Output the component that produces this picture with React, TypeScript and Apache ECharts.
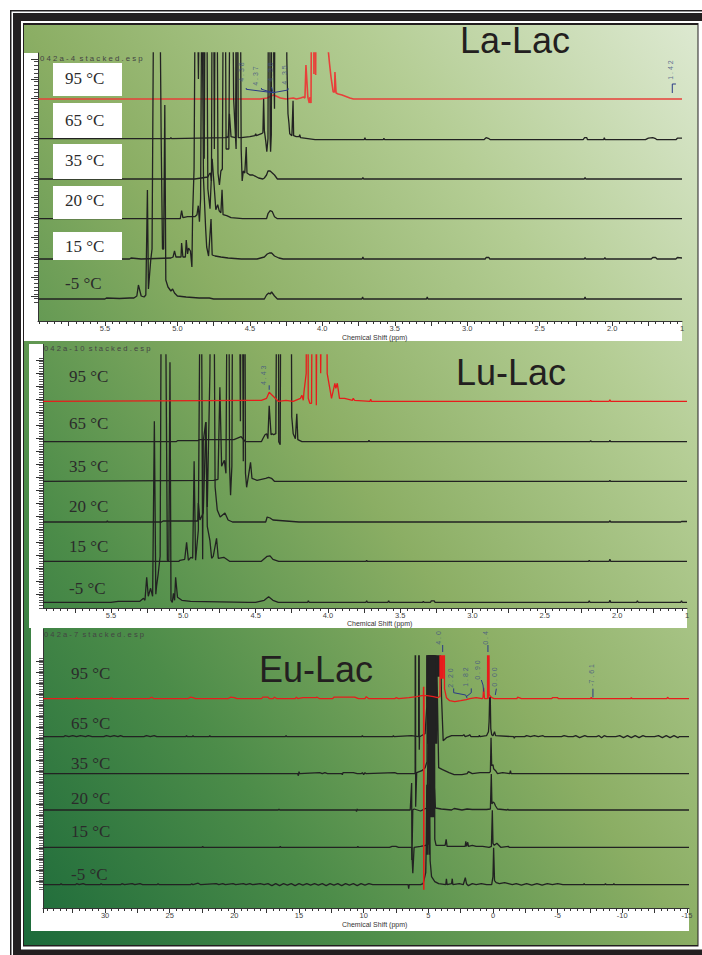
import React, { useEffect, useRef } from "react";
import * as echarts from "echarts";

type P = [number, number];
const OFF = 400; // peak runs off the top of the plot

const tempLabels = ["95 °C", "65 °C", "35 °C", "20 °C", "15 °C", "-5 °C"];

// ---------- La-Lac (ppm, height) ----------
const laM5: P[] = [[5.96,0],[5.5,0],[5.49,1],[5.4,0.5],[5.33,1],[5.3,1],[5.28,3],[5.269,14],[5.25,3],[5.23,2],[5.218,4],[5.207,109],[5.2,10],[5.184,39],[5.175,50],[5.16,OFF],[5.144,260],[5.126,OFF],[5.112,160],[5.103,50],[5.095,50],[5.087,194],[5.08,19],[5.065,12],[5.045,8],[5.033,10],[5.02,6],[5,3],[4.94,2],[4.85,1],[4.78,1],[4.75,0],[4.4,0],[4.385,4],[4.37,6],[4.36,5],[4.35,7],[4.34,5],[4.33,3],[4.31,0],[3.727,0],[3.722,2],[3.717,0],[3.281,0],[3.276,2],[3.271,0],[2.192,0],[2.187,2],[2.182,0],[1.518,0]];
const la15: P[] = [[5.96,0],[5.33,0],[5.32,1],[5.25,0],[5.045,1],[5.03,2],[5.02,8],[5.01,2],[4.99,2],[4.975,2],[4.971,16],[4.962,2],[4.945,2],[4.939,19],[4.93,5],[4.923,11],[4.91,8],[4.9,-8],[4.895,45],[4.885,90],[4.872,OFF],[4.855,180],[4.837,OFF],[4.82,80],[4.805,30],[4.798,12],[4.785,3],[4.768,40],[4.76,4],[4.74,3],[4.7,2],[4.65,1],[4.56,0],[4.45,0],[4.4,2],[4.38,5],[4.365,6],[4.35,6],[4.33,3],[4.3,1],[4.27,0],[3.725,0],[3.72,2],[3.715,0],[2.875,0],[2.87,1.5],[2.85,1.5],[2.845,0],[2.192,0],[2.187,1.5],[2.182,0],[2.055,0],[2.05,1.5],[2.045,0],[1.73,0],[1.72,1.5],[1.7,1.5],[1.69,0],[1.56,0],[1.55,1.5],[1.518,1]];
const la20: P[] = [[5.96,0],[4.98,0],[4.971,8],[4.962,1],[4.93,2],[4.88,2],[4.865,4],[4.856,13],[4.848,-3],[4.84,20],[4.826,OFF],[4.815,60],[4.803,OFF],[4.79,30],[4.775,10],[4.76,60],[4.75,40],[4.735,9],[4.722,14],[4.712,8],[4.7,6],[4.692,29],[4.685,4],[4.66,3],[4.63,1],[4.55,0],[4.385,0],[4.375,5],[4.36,8],[4.345,7],[4.33,2],[4.31,0],[1.518,0]];
const la35: P[] = [[5.96,0],[4.88,0],[4.79,2],[4.78,5],[4.772,6],[4.765,-2],[4.756,OFF],[4.745,30],[4.733,OFF],[4.72,6],[4.71,-6],[4.7,8],[4.69,10],[4.676,OFF],[4.664,30],[4.645,30],[4.629,OFF],[4.612,80],[4.595,30],[4.572,OFF],[4.56,30],[4.553,-2],[4.545,8],[4.535,6],[4.525,32],[4.52,6],[4.5,4],[4.479,4],[4.44,1],[4.41,0],[4.4,1],[4.385,4],[4.375,8],[4.36,8],[4.345,6],[4.33,4],[4.31,0],[3.725,0],[3.72,1.5],[3.715,0],[2.192,0],[2.187,1.5],[2.182,0],[1.518,0]];
const la65: P[] = [[5.96,0],[5.05,0],[5.045,1],[5.04,0],[4.665,1],[4.657,2],[4.65,1],[4.641,25],[4.63,2],[4.6,1],[4.598,2],[4.59,OFF],[4.58,1],[4.56,1],[4.5,2],[4.465,3],[4.46,5],[4.455,3],[4.42,5],[4.41,6],[4.405,40],[4.4,8],[4.39,-3],[4.383,-13],[4.375,0],[4.368,OFF],[4.36,0],[4.357,-13],[4.352,4],[4.345,OFF],[4.335,70],[4.33,30],[4.322,OFF],[4.312,200],[4.29,OFF],[4.275,300],[4.265,OFF],[4.255,OFF],[4.245,80],[4.237,25],[4.23,15],[4.225,5],[4.21,3],[4.202,38],[4.198,3],[4.18,2],[4.16,2],[4.156,4],[4.15,1],[4.1,0],[4.05,-1],[3.9,-1],[3.711,-1],[3.706,1],[3.701,-1],[3.58,-1],[3.575,0.5],[3.57,-1],[2.885,-1],[2.87,1],[2.85,0],[2.84,-1],[2.2,-1],[2.19,1],[2.175,1],[2.17,-1],[2.059,-1],[2.054,1],[2.049,-1],[1.77,-1],[1.75,0.5],[1.72,1],[1.7,0],[1.69,-1],[1.56,-1],[1.55,0.5],[1.518,0.5]];
const la95: P[] = [[5.96,0],[4.43,0],[4.38,1],[4.355,3],[4.336,4],[4.32,3],[4.29,1],[4.25,0],[4.2,1],[4.179,0],[4.15,1],[4.13,2],[4.12,1],[4.113,34],[4.1,2],[4.09,-4],[4.085,2],[4.078,-4],[4.065,OFF],[4.058,25],[4.051,OFF],[4.046,24],[4.036,OFF],[3.99,OFF],[3.975,OFF],[3.96,50],[3.95,35],[3.94,22],[3.93,12],[3.925,7],[3.915,7],[3.913,27],[3.905,6],[3.89,5],[3.864,4],[3.81,1],[3.785,0],[1.518,0]];

// ---------- Lu-Lac ----------
const luM5: P[] = [[5.97,0],[5.5,0],[5.45,1],[5.35,1],[5.3,1],[5.275,4],[5.265,2],[5.253,25],[5.242,6],[5.226,14],[5.212,6],[5.2,181],[5.19,8],[5.184,17],[5.173,29],[5.16,46],[5.15,OFF],[5.14,262],[5.127,OFF],[5.11,42],[5.1,42],[5.092,240],[5.085,2],[5.076,0],[5.068,9],[5.06,2],[5.053,25],[5.04,5],[5.01,2],[4.95,1],[4.55,0],[4.5,0],[4.44,2],[4.41,5.5],[4.38,2],[4.343,0],[4.14,0],[4.135,1.5],[4.13,0],[3.737,0],[3.732,1.5],[3.727,0],[3.585,0],[3.58,1.5],[3.575,0],[3.345,0],[3.34,1],[3.335,0],[3.29,0],[3.285,1.5],[3.265,1.5],[3.26,0],[2.198,0],[2.193,1.5],[2.188,0],[2.055,0],[2.05,2],[2.045,0],[1.865,0],[1.86,1.5],[1.855,0],[1.56,0],[1.555,1.5],[1.55,0],[1.517,0]];
const lu15: P[] = [[5.97,0],[5.03,0],[5.023,1],[4.99,2],[4.977,19],[4.965,1],[4.948,4],[4.935,3],[4.925,100],[4.915,1],[4.896,31],[4.878,OFF],[4.866,2],[4.862,120],[4.845,139],[4.834,35],[4.816,21],[4.804,3],[4.793,5],[4.77,23],[4.758,3],[4.72,4],[4.68,0],[4.46,0],[4.42,5],[4.4,5.5],[4.38,2],[4.34,0],[3.737,0],[3.732,1],[3.727,0],[2.198,0],[2.193,1],[2.188,0],[2.055,0],[2.05,2],[2.045,0],[1.517,0]];
const lu20: P[] = [[5.97,0],[5.53,0],[5.525,1],[5.52,0],[5.15,0],[5.14,1],[5.04,1],[4.9,1],[4.896,19],[4.885,2],[4.862,9],[4.843,100],[4.834,15],[4.816,149],[4.805,OFF],[4.793,OFF],[4.78,35],[4.765,12],[4.745,5],[4.712,9],[4.69,2],[4.66,0],[4.43,0],[4.42,5],[4.4,4],[4.38,2],[4.29,1],[4.2,0],[2.055,0],[2.05,1.5],[2.045,0],[1.56,0],[1.555,0.5],[1.517,0.5]];
const lu35: P[] = [[5.97,0],[4.79,1],[4.76,2],[4.747,94],[4.735,15],[4.716,21],[4.705,8],[4.689,OFF],[4.68,15],[4.673,-14],[4.664,15],[4.654,OFF],[4.62,OFF],[4.605,60],[4.597,OFF],[4.585,20],[4.578,OFF],[4.57,8],[4.562,-6],[4.55,5],[4.535,19],[4.525,3],[4.49,1],[4.43,3],[4.41,4],[4.39,3],[4.37,0],[2.055,0],[2.05,1],[2.045,0],[1.517,0]];
const lu65: P[] = [[5.97,0],[5.05,0],[5.04,1],[4.9,1],[4.89,2],[4.78,2],[4.65,2],[4.6,5],[4.57,0],[4.46,0],[4.45,3],[4.435,7],[4.424,8],[4.415,3],[4.406,36],[4.393,7],[4.385,8],[4.375,7],[4.36,8],[4.345,OFF],[4.34,0],[4.33,-3],[4.32,OFF],[4.305,130],[4.295,OFF],[4.285,100],[4.27,OFF],[4.26,OFF],[4.25,25],[4.24,8],[4.225,3],[4.215,28],[4.208,2],[4.18,0],[4.14,0],[3.721,0],[3.716,1.5],[3.711,0],[2.188,0],[2.183,1],[2.178,0],[2.055,0],[2.05,1.5],[2.045,0],[1.517,0]];
const lu95: P[] = [[5.97,0],[4.46,1],[4.424,3],[4.406,9],[4.378,5],[4.343,0],[4.29,1],[4.24,0],[4.19,3],[4.18,6],[4.17,1],[4.165,10],[4.15,28],[4.143,OFF],[4.136,3],[4.125,-2],[4.113,-2],[4.1,OFF],[4.09,OFF],[4.08,-4],[4.065,OFF],[4.05,28],[4.02,OFF],[4.005,28],[3.975,3],[3.952,18],[3.945,13],[3.935,18],[3.92,3],[3.885,3],[3.83,1],[3.825,3],[3.815,1],[3.709,0],[3.704,2],[3.699,0],[2.188,0],[2.183,1],[2.178,0],[2.055,0],[2.05,1.5],[2.045,0],[1.517,0]];

// ---------- Eu-Lac ----------
const euM5: P[] = [[34.8,0],[33.5,0],[33.4,1],[33.3,0],[32.3,0],[32.2,1],[32,0],[31.7,1],[31.5,0],[30.4,0],[30.3,1],[30.2,0],[28.8,0],[28.7,1],[28.5,0],[27.9,1],[27.7,0],[27.3,1],[27.1,0],[26,0],[25.9,1],[25.8,0],[23.4,0],[23.3,1],[23.2,0],[22.8,1.5],[22.6,0],[21.4,1],[21.2,0],[20.9,1],[20.7,0],[20.1,1],[19.9,0],[19.3,1],[19.1,0],[18.8,1],[18.6,0],[18,1],[17.7,0],[17.4,1],[17.1,-1],[16.8,1],[16.5,-1],[16.2,1],[15.9,-0.5],[15.6,1],[15.3,-1],[15,1],[14.7,-0.5],[14.4,1],[14.1,-0.5],[13.8,1],[13.5,-0.5],[13.2,1],[12.9,-1],[12.6,1],[12.3,-0.5],[12,1],[11.7,-1],[11.4,1],[11.1,-0.5],[10.8,1],[10.5,-1],[10.2,1],[9.9,-0.5],[9.6,1],[9.3,0],[9,0],[6.56,0],[6.52,-4],[6.48,0],[5.6,0],[5.4,1],[5.2,12],[5.16,40],[5.12,100],[5.08,30],[5.05,100],[5.02,40],[4.98,100],[4.95,30],[4.9,100],[4.86,24],[4.75,8],[4.5,3],[4.2,1],[3.65,0],[3.6,6],[3.55,0],[3.2,1],[3.15,6],[3.1,0],[2.6,1],[2.3,0],[2.14,7],[2.05,1],[1.9,-1],[1.6,1],[1.3,0],[0.9,1],[0.5,0],[0.1,0],[0,8],[-0.05,37],[-0.12,4],[-0.25,2],[-0.5,1],[-0.9,2],[-1.2,1],[-1.5,0],[-1.8,1],[-2.2,-0.5],[-2.6,1],[-3,-0.5],[-3.4,1],[-3.8,-0.5],[-4.2,1],[-4.6,0],[-5,1],[-5.4,0],[-7.0,0],[-7.05,1],[-7.1,0],[-8.65,0],[-8.7,1],[-8.75,0],[-9.3,0],[-9.35,1],[-9.4,0],[-15.16,0]];
const eu15: P[] = [[34.8,0],[22.5,0],[22.45,1],[22.4,0],[16.5,0],[16.45,1],[16.4,0],[10.5,0],[10.45,1],[10.4,0],[8,0],[7.8,1],[7.5,1],[7.3,0],[6.35,0],[6.29,0],[6.2,-26],[6.1,0],[5.6,1],[5.2,2],[5,4],[4.95,100],[4.92,OFF],[4.89,30],[4.86,OFF],[4.83,30],[4.8,OFF],[4.77,30],[4.74,OFF],[4.71,30],[4.68,OFF],[4.65,30],[4.62,OFF],[4.59,30],[4.56,OFF],[4.5,8],[4.4,2],[3.7,2],[3.62,8],[3.55,1],[3.2,1],[3.1,1],[2.15,1],[2.1,6],[2.05,1],[1.95,5],[1.9,1],[1.6,2],[1.3,1],[0.8,1],[0.3,0],[0.12,1],[0.05,37],[0,4],[-0.1,2],[-0.3,4],[-0.45,2],[-0.6,0],[-1.2,1],[-1.25,0],[-15.16,0]];
const eu20: P[] = [[34.8,0],[16.6,0],[16.55,1],[16.5,0],[10.6,0],[10.55,-1.5],[10.5,1],[10.45,0],[6.4,0],[6.29,27],[6.27,-50],[6.2,0],[6.1,1],[5.6,-1],[5.3,1],[5.1,2],[5,80],[4.97,OFF],[4.94,30],[4.91,OFF],[4.88,30],[4.85,OFF],[4.82,30],[4.79,OFF],[4.76,30],[4.73,OFF],[4.7,30],[4.67,OFF],[4.64,30],[4.61,OFF],[4.58,30],[4.52,20],[4.45,2],[4,1],[3.2,0],[3,1.5],[2.8,1],[2.4,0],[2,1],[1.6,0.5],[1.1,0.5],[0.5,0.5],[0.2,1],[0.13,36],[0.08,6],[0,8],[-0.1,7],[-0.2,4],[-0.35,1],[-1.1,0],[-1.15,1],[-1.2,0],[-15.16,0]];
const eu35: P[] = [[34.8,0],[15.1,0],[15.05,-2],[15,2],[14.95,0],[13.4,1],[13.2,0],[13,1],[12.8,0],[11.7,0],[11.65,-1],[11.6,1],[11.2,1],[10.8,1],[10.5,0],[10.2,0],[10.1,1],[10,-1],[9.9,1],[9.8,0],[7.6,1],[7.4,0],[6.05,0],[6.02,1],[6,OFF],[5.98,-33],[5.9,1],[5.5,3],[5.25,6],[5.1,12],[5.05,OFF],[5.02,30],[4.99,OFF],[4.96,30],[4.93,OFF],[4.9,30],[4.87,OFF],[4.84,30],[4.81,OFF],[4.78,30],[4.75,OFF],[4.72,30],[4.69,OFF],[4.66,30],[4.63,OFF],[4.6,30],[4.57,OFF],[4.54,30],[4.51,OFF],[4.48,30],[4.45,OFF],[4.42,30],[4.39,OFF],[4.36,30],[4.33,100],[4.2,6],[3.9,4],[3.4,1],[3,-1],[2.4,-1],[2,0],[1.9,2],[1.6,0],[1,1],[0.3,1],[0.2,2],[0.15,36],[0.1,8],[0,9],[-0.05,5],[-0.2,3],[-0.35,0],[-0.75,1],[-1.3,0],[-1.35,3],[-1.4,0],[-15.16,0]];
const eu65: P[] = [[34.8,0],[33.2,0],[33.1,1],[32.8,0],[32.5,1],[32.2,0],[31.9,1],[31.5,0],[31.3,1],[31,0],[30.1,0],[29.9,1],[29.6,0],[29.3,1],[29,0],[28.8,1],[28.6,0],[27,0],[26.8,1],[26.5,0],[26.2,1],[26,0],[23.75,0],[23.7,1],[23.65,0],[23.25,0],[23.2,1],[23.15,0],[21.95,0],[21.9,1],[21.85,0],[16.05,0],[16,1],[15.95,0],[10.15,0],[10.1,1],[10.05,0],[7.75,0],[7.7,1],[7.65,0],[6.3,1],[5.75,0],[5.72,OFF],[5.7,-13],[5.68,0],[5.4,2],[5.25,3],[5.12,30],[5.1,OFF],[5.07,60],[5.04,OFF],[5.01,60],[4.98,OFF],[4.95,60],[4.92,OFF],[4.89,60],[4.86,OFF],[4.83,60],[4.8,OFF],[4.77,60],[4.74,OFF],[4.71,60],[4.68,OFF],[4.62,60],[4.59,OFF],[4.56,60],[4.5,OFF],[4.45,60],[4.35,OFF],[4.31,60],[4.28,OFF],[4.25,60],[4.22,OFF],[4.19,60],[4.16,OFF],[4.13,60],[4.1,OFF],[4.07,60],[4.04,80],[3.98,40],[3.85,-4],[3.6,-1],[3.2,1],[2.35,1],[2.25,2],[2.15,0],[1.9,1],[1.8,2],[1.7,0],[1.1,0],[1.05,1.5],[1,0],[0.5,1],[0.35,5],[0.3,15],[0.26,38],[0.21,40],[0.17,8],[0.1,2],[0,1],[-0.12,5],[-0.2,1],[-1.6,0],[-1.65,-1.5],[-1.7,0],[-2.45,0],[-2.6,1],[-2.9,0],[-3.2,1],[-3.5,0],[-3.87,1],[-4,0],[-5.3,0],[-5.5,1],[-5.8,0],[-6.2,0],[-6.4,1],[-6.7,-1],[-7.1,1],[-7.3,0],[-8,0],[-8.2,1],[-8.4,-1],[-8.6,1],[-8.8,0],[-9.5,0],[-9.8,1],[-10.1,-1],[-10.4,1],[-10.7,-1],[-11,1],[-11.3,-1],[-11.6,1],[-11.8,0],[-12.5,0],[-12.8,1],[-13.1,-1],[-13.4,1],[-13.7,-1],[-14,1],[-14.3,-1],[-14.4,0],[-15.16,0]];
const eu95: P[] = [[34.8,0],[32.25,0],[32.2,1],[32.15,0],[29.55,0],[29.5,1],[29.45,0],[26.6,0],[26.4,1.5],[26.2,0],[23.6,0],[23.4,1.5],[23.2,1],[23,0],[20.5,0],[20.3,1.5],[20,1],[19.8,0],[17.9,0],[17.8,1.5],[17.4,1.5],[17.3,0],[17,0],[16.9,1.5],[16.7,0],[15.3,0],[15.2,1.5],[15.1,0],[14.7,1],[13.7,1],[13.6,1.5],[13.4,0],[12.4,0],[12.3,1.5],[12.1,1.5],[10.7,1.5],[10.4,0],[9.9,0],[9.8,2],[9.6,0],[7.6,0],[7.5,1],[7.3,0],[6.5,1],[5.9,2],[5.5,3],[5.38,3],[5.37,12],[5.36,-191],[5.35,12],[5.34,-191],[5.33,3],[5.1,3],[4.6,2],[4.3,1],[4.1,2],[4.08,OFF],[4.02,20],[3.98,OFF],[3.94,20],[3.9,OFF],[3.86,20],[3.82,OFF],[3.75,10],[3.6,1],[3.35,-2],[2.96,-3],[2.5,-2],[2.06,-1],[1.8,0],[1.3,1],[0.85,0],[0.77,1],[0.72,11],[0.65,0],[0.42,0],[0.39,OFF],[0.36,0],[0.34,OFF],[0.3,4],[0.1,1],[-0.1,0],[-1.85,0],[-1.9,1.5],[-2.1,0.5],[-2.2,0],[-4.55,0],[-4.6,1],[-5,1],[-5.05,0],[-7.55,0],[-7.6,1.5],[-7.65,0],[-10.65,0],[-10.7,1],[-10.75,0],[-13.45,0],[-13.5,1.5],[-13.6,0],[-15.16,0]];

// ---------- peak picks: ppm, height, label ----------
const laPicks: [number, number, string][] = [[4.556,27,"4 . 3 8"],[4.46,23,"4 . 3 7"],[4.36,27,"4 . 3 6"],[4.26,24,"4 . 3 5"],[1.6,29,"1 . 4 2"]];
const luPicks: [number, number, string][] = [[4.442,26,"4 . 4 3"]];
const euPicks: [number, number, string][] = [[4.2,60.7,"4 . 0"],[3.29,20.7,"2 . 2 0"],[2.13,21.7,"1 . 8 2"],[1.16,28.7,"0 . 9 0"],[0.54,60.7,"0 . 4"],[-0.08,21.7,"0 . 0 0"],[-7.6,23.7,"-7 . 6 1"]];
const laLeaders: P[][] = [[[4.525,11],[4.525,9.7],[4.34,6.3]],[[4.42,11],[4.42,9.7],[4.34,6.3]],[[4.35,12],[4.34,6.3]],[[4.237,11],[4.237,9],[4.34,6.3]],[[1.585,15],[1.56,15]],[[1.585,15],[1.585,6]]];
const luLeaders: P[][] = [[[4.406,11.5],[4.406,16]]];
const euLeaders: P[][] = [[[3.89,46.7],[3.89,53.7]],[[3.04,10.3],[3.04,6],[2.11,3.7],[2,0.5]],[[1.68,10.3],[1.68,6],[2.06,2]],[[0.9,18.7],[0.77,13.7],[0.72,7]],[[0.39,46.7],[0.39,53.7]],[[-0.26,10],[-0.18,3.7]],[[-7.73,10],[-7.73,1.3]]];

const laLabels = [5.5, 5, 4.5, 4, 3.5, 3, 2.5, 2, 1.518];
const luLabels = [5.5, 5, 4.5, 4, 3.5, 3, 2.5, 2, 1.517];
const euLabels = [30, 25, 20, 15, 10, 5, 0, -5, -10, -15];

function seq(from: number, to: number, step: number) {
  const out: number[] = [];
  if (step > 0) for (let v = from; v <= to + 1e-6; v += step) out.push(+v.toFixed(3));
  else for (let v = from; v >= to - 1e-6; v += step) out.push(+v.toFixed(3));
  return out;
}
const fmt1 = (v: number) => (v < 1.6 ? "1" : v.toFixed(1));

const panels = [
  { left: 38, width: 644, top: 53, height: 268, xMin: 1.518, xMax: 5.962, yMin: -22, yMax: 246,
    labels: laLabels, xMajor: seq(5.75, 1.75, -0.25), xMinor: seq(5.95, 1.55, -0.05),
    yMajor: seq(2.3, 240, 19.8), yMinor: seq(-3.6, 241, 3.96),
    offsets: [200, 160.3, 120, 80.3, 40, 0], traces: [la95, la65, la35, la20, la15, laM5], redFirst: true,
    picks: laPicks, leaders: laLeaders, redBase: 200, fmt: fmt1, minorTickColor: "#444", redColor: "#e8403a" },
  { left: 43, width: 644, top: 355, height: 253, xMin: 1.517, xMax: 5.97, yMin: -5.7, yMax: 247.3,
    labels: luLabels, xMajor: seq(5.75, 1.75, -0.25), xMinor: seq(5.95, 1.55, -0.05),
    yMajor: seq(8, 246, 13), yMinor: seq(-5.5, 246, 2.6),
    offsets: [201, 160.6, 121, 80.3, 41, 0], traces: [lu95, lu65, lu35, lu20, lu15, luM5], redFirst: false,
    picks: luPicks, leaders: luLeaders, redBase: 201, fmt: fmt1, minorTickColor: "#555", redColor: "#e81c1c" },
  { left: 43, width: 646, top: 656, height: 252, xMin: -15.16, xMax: 34.8, yMin: -23.3, yMax: 228.7,
    labels: euLabels, xMajor: [34.8, ...seq(32.5, -15, -2.5)], xMinor: seq(34.5, -15, -0.5),
    yMajor: seq(3, 228, 11), yMinor: seq(-4.3, 228, 2.2),
    offsets: [186, 148, 111, 74.7, 37.4, 0], traces: [eu95, eu65, eu35, eu20, eu15, euM5], redFirst: false,
    picks: euPicks, leaders: euLeaders, redBase: 186, fmt: (v: number) => String(v), minorTickColor: "#666", redColor: "#e81c1c" },
];

const tempPos: [number, number[]][] = [
  [65, [78, 120, 160, 200, 246, 283]],
  [69, [376, 423, 466, 506, 546, 588]],
  [71, [673, 723, 763, 798, 831, 874]],
];

function buildOption() {
  const grid: any[] = [], xAxis: any[] = [], yAxis: any[] = [], series: any[] = [];
  panels.forEach((p, i) => {
    grid.push({ left: p.left, top: p.top, width: p.width, height: p.height, containLabel: false });
    const xBase = { type: "value", gridIndex: i, min: p.xMin, max: p.xMax, inverse: true, position: "bottom", splitLine: { show: false }, minorTick: { show: false } };
    const yBase = { type: "value", gridIndex: i, min: p.yMin, max: p.yMax, position: "left", splitLine: { show: false }, axisLabel: { show: false } };
    xAxis.push({
      ...xBase,
      axisLine: { show: true, onZero: false, lineStyle: { color: "#333", width: 1 } },
      axisTick: { show: true, length: 5, customValues: p.xMajor, lineStyle: { color: "#333", width: 1 } },
      axisLabel: { show: true, customValues: p.labels, formatter: p.fmt, fontFamily: "Liberation Sans", fontSize: 7.5, color: "#444", margin: 3, showMinLabel: true, showMaxLabel: true, hideOverlap: false },
    });
    xAxis.push({
      ...xBase,
      axisLine: { show: false, onZero: false },
      axisTick: { show: true, length: 3, customValues: p.xMinor, lineStyle: { color: "#333", width: 1 } },
      axisLabel: { show: false },
    });
    yAxis.push({
      ...yBase,
      axisLine: { show: true, onZero: false, lineStyle: { color: "#333", width: 1 } },
      axisTick: { show: true, length: 7, customValues: p.yMajor, lineStyle: { color: "#333", width: 1 } },
    });
    yAxis.push({
      ...yBase,
      axisLine: { show: false, onZero: false },
      axisTick: { show: true, length: 4, customValues: p.yMinor, lineStyle: { color: p.minorTickColor, width: 1 } },
    });
    const xi = i * 2, yi = i * 2;
    const makeTrace = (k: number) => ({
      type: "line", xAxisIndex: xi, yAxisIndex: yi, showSymbol: false, symbol: "none", silent: true, animation: false,
      name: tempLabels[k] + " " + i,
      z: k === 0 ? (p.redFirst ? 2 : 4) : 3,
      lineStyle: k === 0 ? { color: p.redColor, width: p.redFirst ? 1.6 : 1.3 } : { color: "#222", width: 1.3 },
      data: p.traces[k].map(([x, y]) => [x, y + p.offsets[k]]),
    });
    for (let k = 0; k < 6; k++) series.push(makeTrace(k));
    p.leaders.forEach((l) =>
      series.push({
        type: "line", xAxisIndex: xi, yAxisIndex: yi, showSymbol: false, symbol: "none", silent: true, z: 5, clip: false,
        lineStyle: { color: "#2a3a86", width: 1 },
        data: l.map(([x, y]) => [x, y + p.redBase]),
      })
    );
    series.push({
      type: "scatter", xAxisIndex: xi, yAxisIndex: yi, symbolSize: 0.01, silent: true, z: 6,
      data: p.picks.map(([x, y, t]) => ({ value: [x, y + p.redBase], label: { formatter: t } })),
      label: { show: true, position: "inside", rotate: 90, fontFamily: "Liberation Sans", fontSize: 7, color: "#3f4f85" },
      clip: false,
    });
  });

  const rect = (x: number, y: number, w: number, h: number, fill: any, z: number) => ({
    type: "rect", silent: true, z, shape: { x, y, width: w, height: h }, style: { fill },
  });
  const elements: any[] = [
    rect(10, 10, 692, 945, "#231f20", -20),
    rect(11.5, 11.5, 690.5, 943.5, "#ffffff", -19),
    rect(13, 13, 689, 942, "#231f20", -18),
    rect(21, 21, 681, 928.5, "#ffffff", -17),
    rect(23, 23, 675.5, 923.5, "#231f20", -16),
    rect(24, 25, 673.5, 920, new echarts.graphic.LinearGradient(0, 1, 1, 0, [
      { offset: 0, color: "#1c6a3a" },
      { offset: 0.25, color: "#4c8c49" },
      { offset: 0.5, color: "#8bae64" },
      { offset: 0.75, color: "#b4cd94" },
      { offset: 1, color: "#dde9d1" },
    ]), -15),
    // white plot margins
    rect(24, 53, 14, 288, "#ffffff", -14),
    rect(24, 321, 658, 20, "#ffffff", -14),
    rect(29, 344, 14, 284, "#ffffff", -14),
    rect(29, 608, 658, 20, "#ffffff", -14),
    rect(31, 628, 12, 303, "#ffffff", -14),
    rect(31, 908, 658, 23, "#ffffff", -14),
    // boxes behind the La-Lac temperatures
    rect(53, 63, 69, 33, "#ffffff", 10),
    rect(53, 103, 69, 35, "#ffffff", 10),
    rect(53, 144, 69, 35, "#ffffff", 10),
    rect(53, 186, 69, 33, "#ffffff", 10),
    rect(53, 232, 69, 28, "#ffffff", 10),
    // axis line running above the clipped plot
    { type: "line", silent: true, z: 1, shape: { x1: 43.5, y1: 344, x2: 43.5, y2: 356 }, style: { stroke: "#333", lineWidth: 1 } },
    { type: "line", silent: true, z: 1, shape: { x1: 43.5, y1: 629, x2: 43.5, y2: 657 }, style: { stroke: "#333", lineWidth: 1 } },
  ];
  const text = (t: string, x: number, y: number, font: string, fill: string, z = 11, align = "left") => ({
    type: "text", silent: true, z, x, y,
    style: { text: t, font, fill, textAlign: align, textVerticalAlign: "middle" },
  });
  tempPos.forEach(([x, ys]) =>
    ys.forEach((y, k) => elements.push(text(tempLabels[k], x, y, '17px "Liberation Serif"', "#2b2b2b")))
  );
  elements.push(text("La-Lac", 460, 40, '36px "Liberation Sans"', "#231f20"));
  elements.push(text("Lu-Lac", 456, 372, '36px "Liberation Sans"', "#231f20"));
  elements.push(text("Eu-Lac", 259, 669, '36px "Liberation Sans"', "#231f20"));
  elements.push(text("0 4 2 a - 4  s t a c k e d . e s p", 40, 58, '7.8px "Liberation Sans"', "#444"));
  elements.push(text("0 4 2 a - 1 0  s t a c k e d . e s p", 44, 348, '7.6px "Liberation Sans"', "#444"));
  elements.push(text("0 4 2 a - 7  s t a c k e d . e s p", 44, 634, '7.6px "Liberation Sans"', "#444"));
  elements.push(text("Chemical Shift (ppm)", 342, 337, '7px "Liberation Sans"', "#333"));
  elements.push(text("Chemical Shift (ppm)", 347, 623, '7px "Liberation Sans"', "#333"));
  elements.push(text("Chemical Shift (ppm)", 342, 924, '7px "Liberation Sans"', "#333"));

  return { animation: false, backgroundColor: "#ffffff", grid, xAxis, yAxis, series, graphic: { elements } };
}

export default function App() {
  const ref = useRef<HTMLDivElement>(null);
  useEffect(() => {
    document.body.style.margin = "0";
    const chart = echarts.init(ref.current!, undefined, { renderer: "svg" });
    chart.setOption(buildOption() as any);
    return () => chart.dispose();
  }, []);
  return <div ref={ref} style={{ width: 702, height: 955 }} />;
}
